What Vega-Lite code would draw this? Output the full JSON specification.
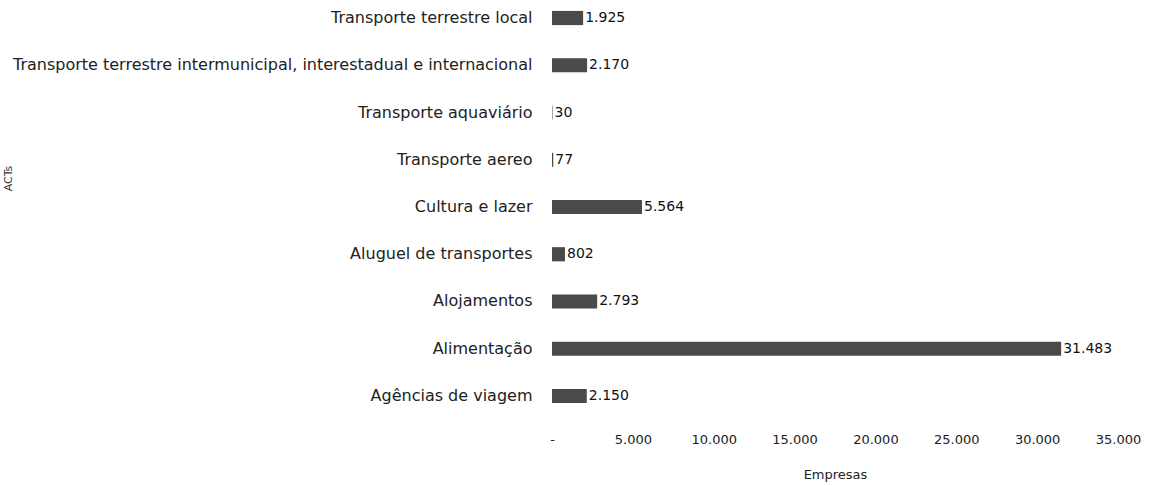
{
  "$schema": "https://vega.github.io/schema/vega-lite/v6.json",
  "autosize": "none",
  "width": 566,
  "height": 414,
  "padding": {"left": 552, "top": 0, "right": 31, "bottom": 72},
  "background": "white",
  "config": {
    "locale": {"number": {"decimal": ",", "thousands": ".", "grouping": [3], "currency": ["R$", ""]}},
    "view": {"stroke": null},
    "font": "DejaVu Sans"
  },
  "data": {
    "values": [
      {"ACT": "Transporte terrestre local", "Empresas": 1925},
      {"ACT": "Transporte terrestre intermunicipal, interestadual e internacional", "Empresas": 2170},
      {"ACT": "Transporte aquaviário", "Empresas": 30},
      {"ACT": "Transporte aereo", "Empresas": 77},
      {"ACT": "Cultura e lazer", "Empresas": 5564},
      {"ACT": "Aluguel de transportes", "Empresas": 802},
      {"ACT": "Alojamentos", "Empresas": 2793},
      {"ACT": "Alimentação", "Empresas": 31483},
      {"ACT": "Agências de viagem", "Empresas": 2150}
    ]
  },
  "encoding": {
    "y": {
      "field": "ACT",
      "type": "nominal",
      "sort": null,
      "scale": {"paddingInner": 0.7, "paddingOuter": 0.231},
      "axis": {
        "title": "ACTs",
        "titleX": -539,
        "titleY": 178,
        "titleAngle": -90,
        "titleFontSize": 11,
        "titleFontWeight": "normal",
        "titleColor": "#333",
        "labelFontSize": 16,
        "labelColor": "#222",
        "labelPadding": 20,
        "labelLimit": 600,
        "domain": false,
        "ticks": false
      }
    },
    "x": {
      "field": "Empresas",
      "type": "quantitative",
      "scale": {"domain": [0, 35000], "nice": false},
      "axis": {
        "title": "Empresas",
        "titleFontSize": 13,
        "titleFontWeight": "normal",
        "titleColor": "#222",
        "titlePadding": 22,
        "values": [0, 5000, 10000, 15000, 20000, 25000, 30000, 35000],
        "labelExpr": "datum.value == 0 ? '-' : format(datum.value, ',')",
        "labelFontSize": 13,
        "labelColor": "#222",
        "labelPadding": 19,
        "labelFlush": false,
        "labelOverlap": false,
        "domain": false,
        "ticks": false,
        "grid": false
      }
    }
  },
  "layer": [
    {"mark": {"type": "bar", "color": "#4a4a4a"}},
    {
      "mark": {"type": "text", "align": "left", "dx": 2, "fontSize": 14, "color": "#111"},
      "encoding": {"text": {"field": "Empresas", "type": "quantitative", "format": ","}}
    }
  ]
}
